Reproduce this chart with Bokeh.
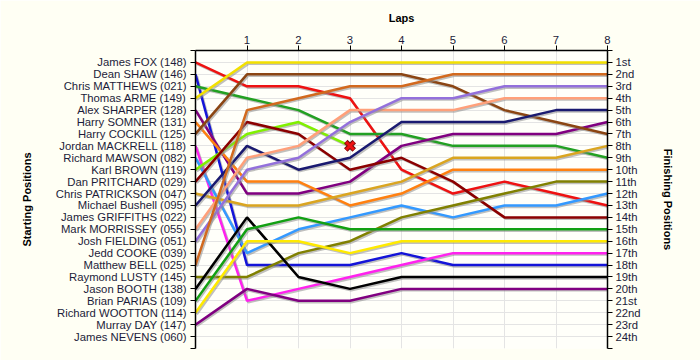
from bokeh.plotting import figure
from bokeh.models import LinearAxis, FixedTicker, Range1d, ColumnDataSource
from bokeh.transform import dodge
from bokeh.embed import file_html
from bokeh.resources import INLINE

laps = [0, 1, 2, 3, 4, 5, 6, 7, 8]
lap_labels = ["", "1", "2", "3", "4", "5", "6", "7", "8"]

start_names = [
    "James FOX (148)", "Dean SHAW (146)", "Chris MATTHEWS (021)", "Thomas ARME (149)",
    "Alex SHARPER (128)", "Harry SOMNER (131)", "Harry COCKILL (125)", "Jordan MACKRELL (118)",
    "Richard MAWSON (082)", "Karl BROWN (119)", "Dan PRITCHARD (029)", "Chris PATRICKSON (047)",
    "Michael Bushell (095)", "James GRIFFITHS (022)", "Mark MORRISSEY (055)", "Josh FIELDING (051)",
    "Jedd COOKE (039)", "Matthew BELL (025)", "Raymond LUSTY (145)", "Jason BOOTH (138)",
    "Brian PARIAS (109)", "Richard WOOTTON (114)", "Murray DAY (147)", "James NEVENS (060)",
]
finish_labels = [
    "1st", "2nd", "3rd", "4th", "5th", "6th", "7th", "8th", "9th", "10th", "11th", "12th",
    "13th", "14th", "15th", "16th", "17th", "18th", "19th", "20th", "21st", "22nd", "23rd", "24th",
]

# positions per lap (lap 0 = starting grid)
fox = [1, 3, 3, 4, 10, 12, 11, 12, 13]
shaw = [2, 18, 18, 18, 17, 18, 18, 18, 18]
matthews = [3, 4, 5, 7, 7, 8, 8, 8, 9]
arme = [4, 1, 1, 1, 1, 1, 1, 1, 1]
sharper = [5, 12, 12, 11, 8, 7, 7, 7, 6]
somner = [6, 11, 11, 13, 12, 10, 10, 10, 10]
cockill = [7, 2, 2, 2, 2, 3, 5, 6, 7]
mackrell = [8, 21, 20, 19, 18, 17, 17, 17, 17]
mawson = [9, 17, 15, 14, 13, 14, 13, 13, 12]
brown = [10, 7, 6, 8]  # retired after lap 3
pritchard = [11, 6, 7, 10, 9, 11, 14, 14, 14]
patrickson = [12, 13, 13, 12, 11, 9, 9, 9, 8]
bushell = [13, 8, 10, 9, 6, 6, 6, 5, 5]
morrissey = [15, 9, 8, 5, 5, 5, 4, 4, 4]
fielding = [16, 10, 9, 6, 4, 4, 3, 3, 3]
bell = [18, 5, 4, 3, 3, 2, 2, 2, 2]
lusty = [19, 19, 17, 16, 14, 13, 12, 11, 11]
booth = [20, 14, 19, 20, 19, 19, 19, 19, 19]
parias = [21, 15, 14, 15, 15, 15, 15, 15, 15]
wootton = [22, 16, 16, 17, 16, 16, 16, 16, 16]
day = [23, 20, 21, 21, 20, 20, 20, 20, 20]

series = [fox, shaw, matthews, arme, sharper, somner, cockill, mackrell, mawson, brown,
          pritchard, patrickson, bushell, morrissey, fielding, bell, lusty, booth, parias,
          wootton, day]
colors = ["#EE1111", "#1414D8", "#22A022", "#F2E000", "#800080", "#FF8010", "#8B4513",
          "#FF22EE", "#3399FF", "#80F000", "#8B0000", "#DAA520", "#1A1A70", "#FFA07A",
          "#9370DB", "#D2691E", "#808000", "#000000", "#12A012", "#FFEA00", "#800080"]
retired = [brown]

BG = "#FFFFF4"
TXT = "#1C1C3A"

p = figure(width=700, height=360, x_range=Range1d(0, 8), y_range=Range1d(25, 0),
           x_axis_location="above", y_axis_location="left",
           output_backend="svg", toolbar_location=None,
           min_border_left=195, min_border_right=93, min_border_top=50, min_border_bottom=12)
p.background_fill_color = "#FFFFFA"
p.border_fill_color = BG
p.outline_line_color = None

# top axis (laps)
xa = p.xaxis[0]
xa.ticker = FixedTicker(ticks=laps[1:])
xa.major_label_overrides = {i: lap_labels[i] for i in laps}
xa.axis_label = "Laps"

# left axis (starting positions)
ya = p.yaxis[0]
ya.ticker = FixedTicker(ticks=list(range(0, 26)))
ya.major_label_overrides = {**{0: "", 25: ""}, **{i + 1: n for i, n in enumerate(start_names)}}
ya.axis_label = "Starting Positions"

# right axis (finishing positions)
ra = LinearAxis(ticker=FixedTicker(ticks=list(range(0, 26))))
ra.major_label_overrides = {**{0: "", 25: ""}, **{i + 1: n for i, n in enumerate(finish_labels)}}
ra.axis_label = "Finishing Positions"
p.add_layout(ra, "right")

for ax in [xa, ya, ra]:
    ax.axis_line_color = "black"
    ax.axis_line_width = 1.5
    ax.major_tick_line_color = "black"
    ax.major_tick_in = 0
    ax.major_tick_out = 5
    ax.minor_tick_line_color = None
    ax.major_label_text_font = "Liberation Sans"
    ax.major_label_text_font_size = "11.3px"
    ax.major_label_text_color = TXT
    ax.axis_label_text_font = "Liberation Sans"
    ax.axis_label_text_font_style = "bold"
    ax.axis_label_text_font_size = "11px"
    ax.axis_label_text_color = "black"
xa.major_label_standoff = 2
xa.axis_label_standoff = 9
ya.major_label_standoff = 4
ya.axis_label_standoff = 20
ra.major_label_standoff = 3
ra.axis_label_standoff = 18

p.xgrid.grid_line_color = "#E4E4E4"
p.ygrid.grid_line_color = "#E4E4E4"
p.xgrid.ticker = FixedTicker(ticks=laps)
p.ygrid.ticker = FixedTicker(ticks=list(range(0, 26)))

for pos, col in zip(series, colors):
    src = ColumnDataSource(dict(lap=laps[:len(pos)], pos=pos))
    p.line(x=dodge("lap", 0.025, range=p.x_range), y=dodge("pos", 0.12, range=p.y_range),
           source=src, line_color="#8C8C8C", line_alpha=0.55, line_width=2.5)
    p.line(x="lap", y="pos", source=src, line_color=col, line_width=2.5)

for pos in retired:
    msrc = ColumnDataSource(dict(lap=[laps[len(pos) - 1]], pos=[pos[-1]]))
    p.scatter(x="lap", y="pos", source=msrc, marker="x", size=12, line_width=5, line_color="#7A1010")
    p.scatter(x="lap", y="pos", source=msrc, marker="x", size=11, line_width=3, line_color="#EE1111")

open("out.html", "w").write(file_html(p, INLINE))
